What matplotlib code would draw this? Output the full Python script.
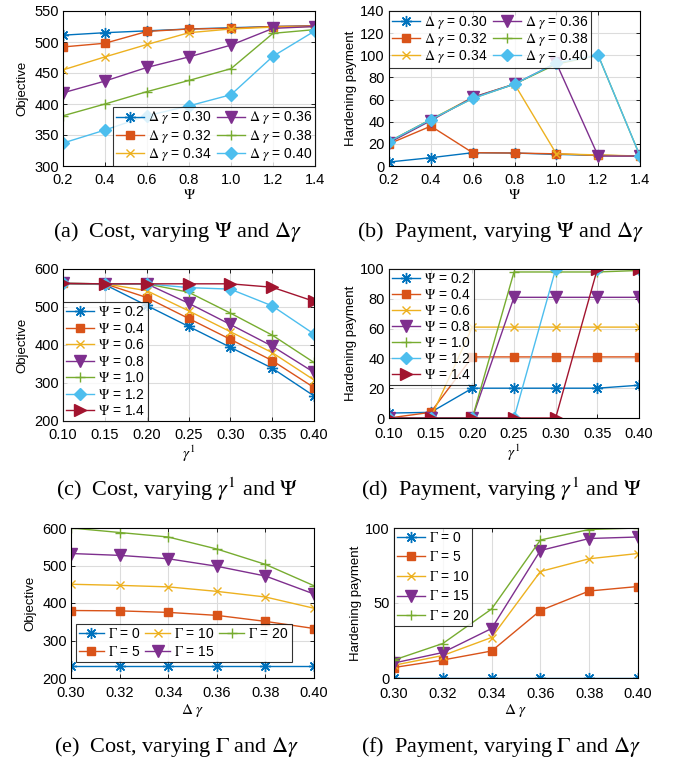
import matplotlib
matplotlib.use("Agg")
import matplotlib.pyplot as plt
import numpy as np

plt.rcParams['font.family'] = ['Liberation Sans', 'DejaVu Sans']
plt.rcParams['mathtext.fontset'] = 'stix'

C = ['#0072BD', '#D95319', '#EDB120', '#7E2F8E', '#77AC30', '#4DBEEE', '#A2142F']
MK = [(8, 2, 0), 's', 'x', 'v', '+', 'D', '>']

# (a) Cost vs Psi for several delta gamma
psi = [0.2, 0.4, 0.6, 0.8, 1.0, 1.2, 1.4]
dg_labels = ['0.30', '0.32', '0.34', '0.36', '0.38', '0.40']
a_vals = [
    [511, 515, 518, 521, 523, 525, 526],
    [492, 498, 517, 521, 522, 525, 526],
    [455, 476, 496, 515, 521, 524, 525],
    [418, 437, 459, 476, 495, 522, 525],
    [381, 400, 420, 438, 457, 514, 520],
    [337, 358, 381, 397, 415, 477, 518],
]
# (b) Payment vs Psi for several delta gamma
b_vals = [
    [3.6, 7.5, 12, 11.7, 10.5, 9.6, 9],
    [20, 36, 12, 11.7, 11, 9.6, 9],
    [22, 42, 62, 74, 11, 10, 9],
    [21, 41, 62, 74, 93, 9, 9],
    [22, 42, 61, 74, 92, 100, 9],
    [22, 42, 61, 74, 93, 100, 9],
]
# (c) Cost vs gamma^1 for several Psi
g1 = [0.10, 0.15, 0.20, 0.25, 0.30, 0.35, 0.40]
psi_labels = ['0.2', '0.4', '0.6', '0.8', '1.0', '1.2', '1.4']
c_vals = [
    [562, 559, 504, 449, 394, 339, 266],
    [562, 561, 525, 470, 415, 359, 288],
    [562, 561, 543, 490, 435, 380, 308],
    [562, 561, 561, 510, 454, 397, 328],
    [562, 561, 561, 539, 484, 426, 354],
    [562, 561, 561, 551, 547, 503, 429],
    [562, 561, 561, 561, 561, 552, 515],
]
# (d) Payment vs gamma^1 for several Psi
d_vals = [
    [3.3, 3.8, 20, 20, 20, 20, 22],
    [0, 3.8, 41, 41, 41, 41, 41],
    [0, 0, 61, 61, 61, 61, 61],
    [0, 0, 0, 81, 81, 81, 81],
    [0, 0, 0, 98, 98, 98, 99],
    [0, 0, 0, 0, 100, 100, 100],
    [0, 0, 0, 0, 0, 100, 100],
]
# (e) Cost vs delta gamma for several Gamma
dg = [0.30, 0.32, 0.34, 0.36, 0.38, 0.40]
G_labels = ['0', '5', '10', '15', '20']
e_vals = [
    [231, 231, 231, 231, 231, 231],
    [380, 379, 375, 367, 351, 332],
    [450, 447, 443, 431, 416, 386],
    [532, 527, 518, 498, 472, 424],
    [600, 588, 576, 544, 503, 446],
]
# (f) Payment vs delta gamma for several Gamma
f_vals = [
    [0, 0, 0, 0, 0, 0],
    [7, 12, 18, 45, 58, 61],
    [8.5, 15, 27, 71, 79.5, 83],
    [10, 17, 33, 85, 93, 94],
    [12, 23, 46, 92, 99, 100],
]

W, H = 681, 762
fig = plt.figure(figsize=(W / 100, H / 100), dpi=100)

TICK = 10.5
LEG = 10
LAB = 9.5


def ax_px(l, r, t, b):
    return fig.add_axes([l / W, (H - b) / H, (r - l) / W, (b - t) / H])


def style(ax, xpad=5):
    ax.grid(True, color='#dcdcdc', linewidth=0.8)
    ax.set_axisbelow(True)
    ax.tick_params(axis='both', direction='in', top=True, right=True, labelsize=TICK,
                   length=3, width=0.6)
    ax.tick_params(axis='x', pad=xpad)
    ax.tick_params(axis='y', pad=3)
    for s in ax.spines.values():
        s.set_linewidth(0.8)


def draw(ax, x, vals, labels):
    for i, v in enumerate(vals):
        m = MK[i]
        ms = [8, 6, 6, 8, 7, 6, 8][i]
        ax.plot(x, v, color=C[i], marker=m, markersize=ms, linewidth=1.0,
                markerfacecolor=C[i], markeredgecolor=C[i], label=labels[i])


legkw = dict(fontsize=LEG, frameon=True, fancybox=False, edgecolor='black',
             borderaxespad=0, handlelength=2.0, handletextpad=0.3,
             borderpad=0.2, labelspacing=0.05, columnspacing=0.4)


def legend(ax, **kw):
    d = dict(legkw)
    d.update(kw)
    lg = ax.legend(**d)
    lg.get_frame().set_linewidth(0.8)
    return lg


# (a)
ax = ax_px(63, 315, 11, 166)
style(ax)
draw(ax, psi, a_vals, [r'$\Delta\ \gamma$ = ' + s for s in dg_labels])
ax.set_xlim(0.2, 1.4); ax.set_ylim(300, 550)
ax.set_xticks(psi); ax.set_xticklabels(['0.2', '0.4', '0.6', '0.8', '1.0', '1.2', '1.4'])
ax.set_yticks(range(300, 551, 50))
ax.set_xlabel(r'$\Psi$', fontsize=11, labelpad=1)
ax.set_ylabel('Objective', fontsize=LAB, labelpad=4)
legend(ax, loc='lower right', bbox_to_anchor=(1, 0), ncol=2, labelspacing=0.1)

# (b)
ax = ax_px(389, 640, 11, 166)
style(ax)
draw(ax, psi, b_vals, [r'$\Delta\ \gamma$ = ' + s for s in dg_labels])
ax.set_xlim(0.2, 1.4); ax.set_ylim(0, 140)
ax.set_xticks(psi); ax.set_xticklabels(['0.2', '0.4', '0.6', '0.8', '1.0', '1.2', '1.4'])
ax.set_yticks(range(0, 141, 20))
ax.set_xlabel(r'$\Psi$', fontsize=11, labelpad=1)
ax.set_ylabel('Hardening payment', fontsize=LAB, labelpad=2)
legend(ax, loc='upper left', bbox_to_anchor=(0, 1), ncol=2, labelspacing=0.0)

# (c)
ax = ax_px(63, 314, 269, 421)
style(ax)
draw(ax, g1, c_vals, [r'$\Psi$ = ' + s for s in psi_labels])
ax.set_xlim(0.1, 0.4); ax.set_ylim(200, 600)
ax.set_xticks(g1); ax.set_xticklabels(['%.2f' % v for v in g1])
ax.set_yticks(range(200, 601, 100))
ax.set_xlabel(r'$\gamma^1$', fontsize=11, labelpad=1)
ax.set_ylabel('Objective', fontsize=LAB, labelpad=4)
legend(ax, loc='lower left', bbox_to_anchor=(0, 0), ncol=1, labelspacing=0.18)

# (d)
ax = ax_px(389, 639, 269, 418)
style(ax, xpad=6.5)
draw(ax, g1, d_vals, [r'$\Psi$ = ' + s for s in psi_labels])
ax.set_xlim(0.1, 0.4); ax.set_ylim(0, 100)
ax.set_xticks(g1); ax.set_xticklabels(['%.2f' % v for v in g1])
ax.set_yticks(range(0, 101, 20))
ax.set_xlabel(r'$\gamma^1$', fontsize=11, labelpad=1)
ax.set_ylabel('Hardening payment', fontsize=LAB, labelpad=2)
legend(ax, loc='upper left', bbox_to_anchor=(0, 1), ncol=1, labelspacing=0.15)

# (e)
ax = ax_px(71, 314, 528, 678)
style(ax, xpad=6)
draw(ax, dg, e_vals, [r'$\Gamma$ = ' + s for s in G_labels])
ax.set_xlim(0.3, 0.4); ax.set_ylim(200, 600)
ax.set_xticks(dg); ax.set_xticklabels(['%.2f' % v for v in dg])
ax.set_yticks(range(200, 601, 100))
ax.set_xlabel(r'$\Delta\ \gamma$', fontsize=11, labelpad=1)
ax.set_ylabel('Objective', fontsize=LAB, labelpad=4)
legend(ax, loc='lower left', bbox_to_anchor=(0.02, 0.107), ncol=3, labelspacing=0.3,
       handlelength=1.8, columnspacing=0.3)

# (f)
ax = ax_px(394, 638, 528, 678)
style(ax, xpad=6.5)
draw(ax, dg, f_vals, [r'$\Gamma$ = ' + s for s in G_labels])
ax.set_xlim(0.3, 0.4); ax.set_ylim(0, 100)
ax.set_xticks(dg); ax.set_xticklabels(['%.2f' % v for v in dg])
ax.set_yticks([0, 50, 100])
ax.set_xlabel(r'$\Delta\ \gamma$', fontsize=11, labelpad=1)
ax.set_ylabel('Hardening payment', fontsize=LAB, labelpad=2)
legend(ax, loc='upper left', bbox_to_anchor=(0, 1), ncol=1, labelspacing=0.4)

caps = [
    (177, 232, r'(a)  Cost, varying $\Psi$ and $\Delta\gamma$'),
    (501, 232, r'(b)  Payment, varying $\Psi$ and $\Delta\gamma$'),
    (177, 489, r'(c)  Cost, varying $\gamma^1$ and $\Psi$'),
    (501, 489, r'(d)  Payment, varying $\gamma^1$ and $\Psi$'),
    (177, 747, r'(e)  Cost, varying $\Gamma$ and $\Delta\gamma$'),
    (501, 747, r'(f)  Payment, varying $\Gamma$ and $\Delta\gamma$'),
]
for x, y, t in caps:
    fig.text(x / W, 1 - y / H, t, ha='center', va='center', fontsize=16,
             family=['Liberation Serif', 'DejaVu Serif'])

fig.savefig('out.png', dpi=100)
